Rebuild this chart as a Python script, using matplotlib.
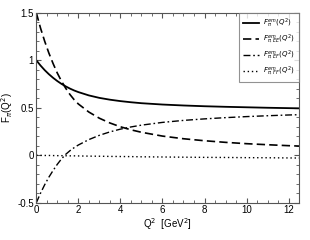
import matplotlib

matplotlib.use("Agg")
import matplotlib.pyplot as plt
from matplotlib.ticker import MultipleLocator

plt.rcParams["font.family"] = ["Liberation Sans", "DejaVu Sans"]

# values
q2 = [0.0, 0.2, 0.4, 0.6, 0.8, 1.0, 1.2, 1.4, 1.6, 1.8, 2.0, 2.5, 3.0, 3.5,
      4.0, 4.5, 5.0, 6.0, 7.0, 8.0, 9.0, 10.0, 11.0, 12.0, 12.5]
f_total = [1.0, 0.945, 0.896, 0.853, 0.815, 0.781, 0.751, 0.725, 0.702, 0.682,
           0.665, 0.630, 0.604, 0.585, 0.570, 0.558, 0.548, 0.534, 0.524,
           0.516, 0.510, 0.505, 0.500, 0.496, 0.494]
f_ee = [1.50, 1.34, 1.20, 1.075, 0.965, 0.865, 0.78, 0.705, 0.64, 0.585, 0.54,
        0.455, 0.39, 0.34, 0.30, 0.268, 0.242, 0.202, 0.174, 0.153, 0.136,
        0.122, 0.111, 0.101, 0.097]
f_ef = [-0.50, -0.40, -0.31, -0.23, -0.16, -0.095, -0.038, 0.01, 0.048, 0.08,
        0.108, 0.165, 0.21, 0.246, 0.275, 0.298, 0.317, 0.346, 0.367, 0.383,
        0.396, 0.407, 0.416, 0.424, 0.427]
f_ff = [0.0, -0.001, -0.002, -0.002, -0.003, -0.004, -0.004, -0.005, -0.006,
        -0.006, -0.007, -0.009, -0.010, -0.012, -0.013, -0.014, -0.016, -0.018,
        -0.020, -0.022, -0.023, -0.025, -0.026, -0.028, -0.029]

labels = [r"$F^{em}_{\pi}(Q^2)$", r"$F^{em}_{\pi,EE}(Q^2)$",
          r"$F^{em}_{\pi,EF}(Q^2)$", r"$F^{em}_{\pi,FF}(Q^2)$"]

fig = plt.figure(figsize=(3.1, 2.4), dpi=100)
ax = fig.add_axes([0.117, 0.155, 0.848, 0.792])

ax.plot(q2, f_total, color="black", lw=1.3, ls="-", label=labels[0])
ax.plot(q2, f_ee, color="black", lw=1.2, ls=(0, (5, 2.5)), label=labels[1])
ax.plot(q2, f_ef, color="black", lw=1.0, ls=(0, (5, 2, 1.2, 2)), label=labels[2])
ax.plot(q2, f_ff, color="black", lw=1.0, ls=(0, (1, 2)), label=labels[3])

ax.set_xlim(0, 12.5)
ax.set_ylim(-0.5, 1.5)
ax.xaxis.set_major_locator(MultipleLocator(2))
ax.xaxis.set_minor_locator(MultipleLocator(0.5))
ax.yaxis.set_minor_locator(MultipleLocator(0.1))
ax.set_yticks([-0.5, 0, 0.5, 1, 1.5])
ax.set_yticklabels(["-0.5", "0", "0.5", "1", "1.5"])
ax.tick_params(which="both", direction="in", top=True, right=True,
               labelsize=7, pad=1.5, color="#555555")
ax.tick_params(which="major", length=3.5)
ax.tick_params(which="minor", length=2)
for sp in ax.spines.values():
    sp.set_color("#555555")
    sp.set_linewidth(0.8)

ax.set_xlabel(r"Q$^2$  [GeV$^2$]", fontsize=7, labelpad=1)
ax.set_ylabel(r"F$_\pi$(Q$^2$)", fontsize=7, labelpad=2)

leg = ax.legend(loc="upper right", fontsize=5, frameon=True, fancybox=False,
                borderaxespad=0, handlelength=2.2, labelspacing=0.4,
                handletextpad=0.6, borderpad=0.6)
leg.get_frame().set_edgecolor("#777777")
leg.get_frame().set_linewidth(0.8)

fig.savefig("out.png", dpi=100)
